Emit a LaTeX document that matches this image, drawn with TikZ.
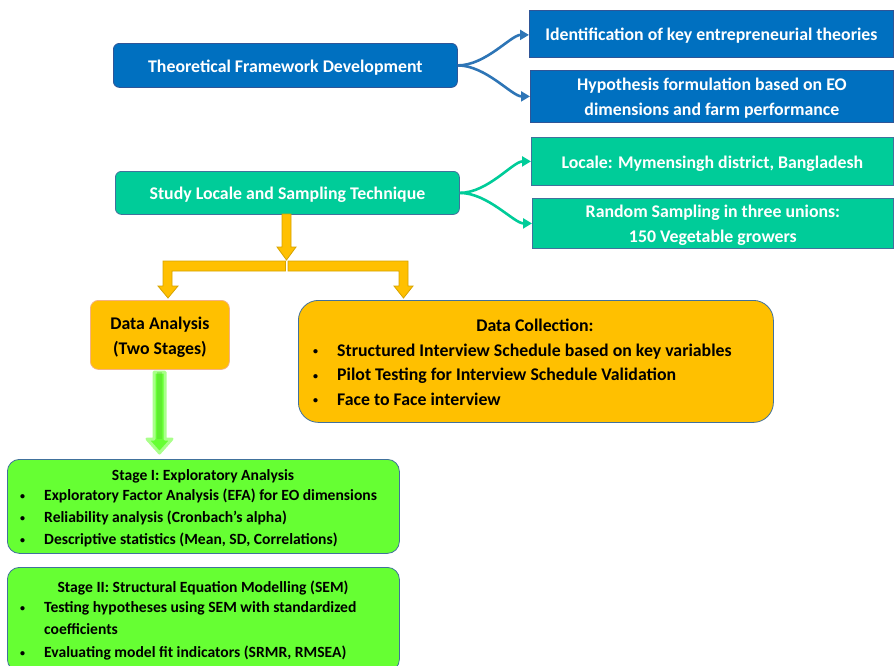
\documentclass[tikz,border=0pt]{standalone}
\usepackage{fontspec}
\setmainfont{Carlito}
\usetikzlibrary{arrows.meta}
\definecolor{bluebox}{HTML}{0070C0}
\definecolor{blueedge}{HTML}{2F5597}
\definecolor{bluearrow}{HTML}{2E75B6}
\definecolor{tealbox}{HTML}{00CC99}
\definecolor{tealedge}{HTML}{41719C}
\definecolor{yellowbox}{HTML}{FFC000}
\definecolor{yellowedge}{HTML}{D6A300}
\definecolor{orangeedge}{HTML}{F4B183}
\definecolor{greenbox}{HTML}{66FF33}
\definecolor{greenglow}{HTML}{A9FF8A}
\newcommand{\smallbul}{\raisebox{1.5pt}{\fontsize{10}{10}\selectfont •}}
\newcommand{\lowr}[1]{\raisebox{-2pt}[\height][\depth]{\begin{tabular}{@{}c@{}}#1\end{tabular}}}
\begin{document}
\begin{tikzpicture}[x=1pt,y=-1pt,
  every node/.style={font=\bfseries},
  boxbase/.style={anchor=north west, inner sep=0pt, line width=0.8pt, align=center},
  bluestyle/.style={boxbase, fill=bluebox, draw=blueedge, text=white, font=\bfseries\fontsize{17.8}{25}\selectfont},
  tealstyle/.style={boxbase, fill=tealbox, draw=tealedge, text=white, font=\bfseries\fontsize{17.8}{25}\selectfont},
  yellowstyle/.style={boxbase, fill=yellowbox, draw=tealedge, text=black, rounded corners=14pt},
  greenstyle/.style={boxbase, fill=greenbox, draw=tealedge, text=black, rounded corners=12pt},
  line16/.style={anchor=west, inner sep=0pt, text height=16pt, text depth=3.5pt, font=\bfseries\fontsize{17.8}{22}\selectfont},
  line13/.style={anchor=west, inner sep=0pt, text height=14.5pt, text depth=3pt, font=\bfseries\fontsize{15.6}{19}\selectfont},
  bluecurve/.style={draw=bluearrow, line width=2.6pt, -{Triangle[length=9pt,width=10pt]}},
  tealcurve/.style={draw=tealbox, line width=2.6pt, -{Triangle[length=9pt,width=10pt]}},
  blockarrow/.style={fill=yellowbox, draw=yellowedge, line width=0.8pt, line join=miter}
]
\useasboundingbox (0,0) rectangle (894,665);

% top blue
\node[bluestyle, rounded corners=6pt, minimum width=344, minimum height=44] (tfd) at (113,43) {\lowr{Theoretical Framework Development}};
\node[bluestyle, minimum width=364, minimum height=47] (ident) at (529,10) {\lowr{Identification of key entrepreneurial theories}};
\node[bluestyle, minimum width=363, minimum height=52] (hyp) at (530,70) {\lowr{Hypothesis formulation based on EO\\dimensions and farm performance}};
\draw[bluecurve] (tfd.east) .. controls +(28,0) and +(-18,0) .. ([yshift=-1pt]ident.west);
\draw[bluecurve] (tfd.east) .. controls +(28,0) and +(-18,0) .. (hyp.west);

% teal
\node[tealstyle, rounded corners=6pt, minimum width=344, minimum height=43] (study) at (115,171) {\lowr{Study Locale and Sampling Technique}};
\node[tealstyle, minimum width=362, minimum height=48] (locale) at (531,137) {\lowr{Locale: Mymensingh district, Bangladesh}};
\node[tealstyle, minimum width=361, minimum height=48] (rand) at (532,198) {\lowr{Random Sampling in three unions:\\150 Vegetable growers}};
\draw[tealcurve] (study.east) .. controls +(28,0) and +(-18,0) .. (locale.west);
\draw[tealcurve] (study.east) .. controls +(28,0) and +(-18,0) .. (rand.west);

% yellow boxes
\node[yellowstyle, draw=orangeedge, rounded corners=8pt, minimum width=139, minimum height=69, font=\bfseries\fontsize{17.8}{25}\selectfont] (da) at (90,300) {\lowr{Data Analysis\\(Two Stages)}};
\node[yellowstyle, rounded corners=20pt, minimum width=475, minimum height=122] (dc) at (298,300) {};
\node[line16, anchor=center] (dct) at (535,325) {Data Collection:};
\node[line16] (dc1) at (313,350) {\makebox[24pt][l]{\smallbul}Structured Interview Schedule based on key variables};
\node[line16] (dc2) at (313,374.5) {\makebox[24pt][l]{\smallbul}Pilot Testing for Interview Schedule Validation};
\node[line16] (dc3) at (313,399) {\makebox[24pt][l]{\smallbul}Face to Face interview};

% yellow block arrows
\coordinate (sbot) at (study.south);
\draw[blockarrow] (282,214) -- (291,214) -- (291,247) -- (296,247) -- (286.5,260) -- (277,247) -- (282,247) -- cycle;
\draw[blockarrow] (285.5,261) -- (163,261) -- (163,286) -- (158,286) -- (168,298) -- (178,286) -- (172,286) -- (172,271) -- (285.5,271) -- cycle;
\draw[blockarrow] (288,261) -- (408,261) -- (408,286) -- (413,286) -- (403.5,298) -- (394,286) -- (399,286) -- (399,271) -- (288,271) -- cycle;

% green arrow
\draw[draw=greenglow, line width=3pt, fill=greenbox, line join=round]
  (154,372) -- (165,372) -- (165,439) -- (172,439) -- (159.5,453) -- (147,439) -- (154,439) -- cycle;
\fill[greenbox!80!black, opacity=0.35] (157,372) -- (162,372) -- (162,439) -- (157,439) -- cycle;

% green boxes
\node[greenstyle, minimum width=392, minimum height=94] (s1) at (7,459) {};
\node[line13, anchor=center] (s1t) at (203,475) {Stage I: Exploratory Analysis};
\node[line13] (s11) at (20,495) {\makebox[24pt][l]{\smallbul}Exploratory Factor Analysis (EFA) for EO dimensions};
\node[line13] (s12) at (20,517) {\makebox[24pt][l]{\smallbul}Reliability analysis (Cronbach’s alpha)};
\node[line13] (s13) at (20,539) {\makebox[24pt][l]{\smallbul}Descriptive statistics (Mean, SD, Correlations)};

\node[greenstyle, minimum width=392, minimum height=104] (s2) at (7,567) {};
\node[line13, anchor=center] (s2t) at (203,587) {Stage II: Structural Equation Modelling (SEM)};
\node[line13] (s21) at (20,607) {\makebox[24pt][l]{\smallbul}Testing hypotheses using SEM with standardized};
\node[line13] (s22) at (20,629) {\makebox[24pt][l]{}coefficients};
\node[line13] (s23) at (20,652) {\makebox[24pt][l]{\smallbul}Evaluating model fit indicators (SRMR, RMSEA)};
\end{tikzpicture}
\end{document}
